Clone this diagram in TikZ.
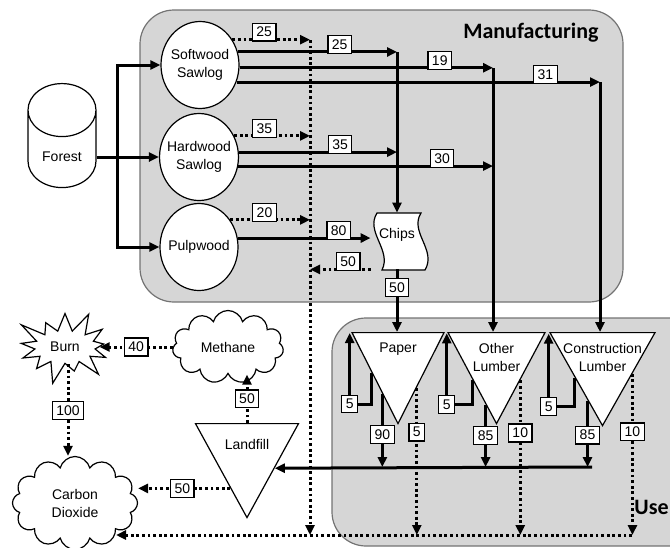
\documentclass[tikz,border=0pt]{standalone}
\usepackage{fontspec}
\setmainfont{Liberation Sans}
\newfontfamily\headfont{Carlito}
\usetikzlibrary{arrows.meta,calc,shapes.geometric,shapes.symbols}

\begin{document}
\begin{tikzpicture}[
    x=0.5pt, y=-0.5pt,
    every node/.style={font=\fontsize{7}{9}\selectfont},
    region/.style={draw=black!55, fill=black!16, line width=0.6pt, rounded corners=17pt},
    regionlabel/.style={font=\headfont\bfseries\fontsize{11}{13}\selectfont, inner sep=0pt},
    store/.style={cylinder, shape border rotate=90, aspect=1, draw, fill=white, line width=0.6pt, minimum width=34pt, minimum height=52pt},
    stock/.style={ellipse, draw, fill=white, line width=0.6pt, align=center, inner xsep=-2pt, inner ysep=0pt, minimum width=39pt, minimum height=43.5pt},
    sink/.style={isosceles triangle, isosceles triangle stretches, shape border rotate=270, anchor=north, draw, fill=white, line width=0.6pt, inner sep=0pt},
    gas/.style={cloud, cloud puffs=11, cloud ignores aspect, draw, fill=white, line width=0.6pt, align=center},
    fire/.style={starburst, starburst points=13, starburst point height=12pt, draw, fill=white, line width=0.6pt},
    numbox/.style={rectangle, draw, solid, fill=white, line width=0.6pt, inner xsep=2pt, inner ysep=2pt},
    tag/.style={numbox, above=-1pt},
    flow/.style={-{Triangle[length=5pt,width=4.5pt]}, line width=1.5pt},
    waste/.style={flow, dash pattern=on 1.4pt off 1.4pt}
]
    \path[use as bounding box, clip] (0,0) rectangle (670,547);

    % regions
    \node[region, minimum width=241.5pt, minimum height=146pt] (mfg) at (381.5,156) {};
    \node[region, minimum width=194pt, minimum height=114pt] (use) at (526,432) {};
    \node[regionlabel, anchor=east] (mfglabel) at (599,33) {Manufacturing};
    \node[regionlabel, anchor=west] (uselabel) at (634,507) {Use};

    % stocks
    \node[store] (forest) at (62,157) {Forest};
    \node[stock] (softwood) at (200,65) {Softwood\\Sawlog};
    \node[stock] (hardwood) at (199,157) {Hardwood\\Sawlog};
    \node[stock] (pulpwood) at (199,247) {Pulpwood};
    \draw[line width=0.6pt, fill=white] (377,213) -- (421,213)
        .. controls (409,232) and (437,250) .. (425,270) -- (382,270)
        .. controls (392,250) and (365,232) .. (377,213) -- cycle;
    \node[minimum width=26pt, minimum height=28pt, inner sep=0pt, text height=5pt, text depth=8pt] (chips) at (397,241) {Chips};

    % products
    \node[sink, minimum width=46pt, minimum height=45.5pt, label={[below=2pt]north:Paper}] (paper) at (398,332) {};
    \node[sink, minimum width=48.5pt, minimum height=45.5pt, label={[below=2pt, align=center]north:Other\\Lumber}] (other) at (496.5,332) {};
    \node[sink, minimum width=52.5pt, minimum height=46.5pt, label={[below=2pt, align=center]north:Construction\\Lumber}] (constr) at (602.5,332) {};
    \node[sink, minimum width=51.5pt, minimum height=47pt, label={[below=4.5pt]north:Landfill}] (landfill) at (247,423) {};
    \node[gas, minimum width=55.5pt, minimum height=36.5pt] (methane) at (228,347) {Methane};
    \node[gas, cloud puffs=12, minimum width=62.5pt, minimum height=46.5pt] (co2) at (75,503) {Carbon\\Dioxide};
    \node[fire, minimum width=50pt, minimum height=35pt] (burn) at (65,347) {Burn};

    % forest to stocks
    \coordinate (split) at (117,157);
    \draw[flow] (forest.east |- split) -- (hardwood.west);
    \draw[flow] (split) |- (softwood.west);
    \draw[flow] (split) |- (pulpwood.west);

    % manufacturing
    \coordinate (dump) at (310,40);
    \coordinate (chipsin) at (397,52);
    \coordinate (otherin) at (493,68);
    \coordinate (constrin) at (600,82);
    \coordinate (useout) at (632,535);
    \draw[waste] (softwood.38) -- node[tag, pos=0.41] {25} (softwood.38 -| dump);
    \draw[flow] (softwood.19) -- node[tag, pos=0.64] {25} (softwood.19 -| chipsin);
    \draw[flow] (softwood.-4) -- node[tag, pos=0.79] {19} (softwood.-4 -| otherin);
    \draw[flow] (softwood.-25) -- node[tag, pos=0.85] {31} (softwood.-25 -| constrin);
    \draw[waste] (hardwood.31) -- node[tag, pos=0.40] {35} (hardwood.31 -| dump);
    \draw[flow] (hardwood.7) -- node[tag, pos=0.64] {35} (hardwood.7 -| chipsin);
    \draw[flow] (hardwood.-13) -- node[tag, pos=0.80] {30} (hardwood.-13 -| otherin);
    \draw[waste] (pulpwood.41) -- node[tag, pos=0.43] {20} (pulpwood.41 -| dump);
    \draw[flow] (pulpwood.13) -- node[tag, pos=0.76] {80} (pulpwood.13 -| chips.west);
    \draw[waste] (chips.south west) -- node[tag, pos=0.37] {50} (chips.south west -| dump);
    \draw[flow] (chipsin) -- (chips.north);
    \draw[flow] (otherin) -- (otherin |- other.north);
    \draw[flow] (constrin) -- (constrin |- constr.north);
    \draw[flow] (chips.south) -- node[numbox, pos=0.29] {50} (chips.south |- paper.north);
    \draw[waste] (dump) -- (dump |- useout);

    % use
    \coordinate (bus) at (592,467);
    \coordinate (paperloop) at ($(paper.right corner)!0.44!(paper.apex)$);
    \coordinate (paperout) at ($(paper.right corner)!0.667!(paper.apex)$);
    \coordinate (paperloss) at ($(paper.left corner)!0.6!(paper.apex)$);
    \coordinate (otherloop) at ($(other.right corner)!0.52!(other.apex)$);
    \coordinate (otherout) at ($(other.right corner)!0.78!(other.apex)$);
    \coordinate (otherloss) at ($(other.left corner)!0.52!(other.apex)$);
    \coordinate (constrloop) at ($(constr.right corner)!0.48!(constr.apex)$);
    \coordinate (constrout) at ($(constr.right corner)!0.72!(constr.apex)$);
    \coordinate (constrloss) at ($(constr.left corner)!0.44!(constr.apex)$);
    \draw[flow] (paperloop) |- node[numbox, pos=1] {5} ++(-22,31) -- ++(0,-71);
    \draw[flow] (otherloop) |- node[numbox, pos=1] {5} ++(-26,24) -- ++(0,-71);
    \draw[flow] (constrloop) |- node[numbox, pos=1] {5} ++(-26,29) -- ++(0,-73);
    \draw[flow] (paperout) -- node[numbox, pos=0.55] {90} (paperout |- bus);
    \draw[flow] (otherout) -- node[numbox, pos=0.49] {85} (otherout |- bus);
    \draw[flow] (constrout) -- node[numbox, pos=0.52] {85} (constrout |- bus);
    \draw[waste] (paperloss) -- node[numbox, pos=0.30] {5} (paperloss |- useout);
    \draw[waste] (otherloss) -- node[numbox, pos=0.34] {10} (otherloss |- useout);
    \draw[waste] (constrloss) -- node[numbox, pos=0.36] {10} (constrloss |- useout);
    \draw[flow] (bus) -- ($(landfill.left corner)!0.47!(landfill.apex)$);
    \draw[waste] (useout) -- (useout -| co2.-35);

    % landfill and gases
    \coordinate (landfillout) at ($(landfill.right corner)!0.68!(landfill.apex)$);
    \draw[waste] (landfill.north) -- node[numbox] {50} (landfill.north |- methane.south);
    \draw[waste] (landfillout) -- node[numbox, pos=0.52] {50} (landfillout -| co2.east);
    \draw[waste] (methane.west) -- node[numbox] {40} (methane.west -| burn.east);
    \draw[waste] ([xshift=1.5pt]burn.south) -- node[numbox] {100} ([xshift=1.5pt]burn.south |- co2.north);
\end{tikzpicture}
\end{document}
